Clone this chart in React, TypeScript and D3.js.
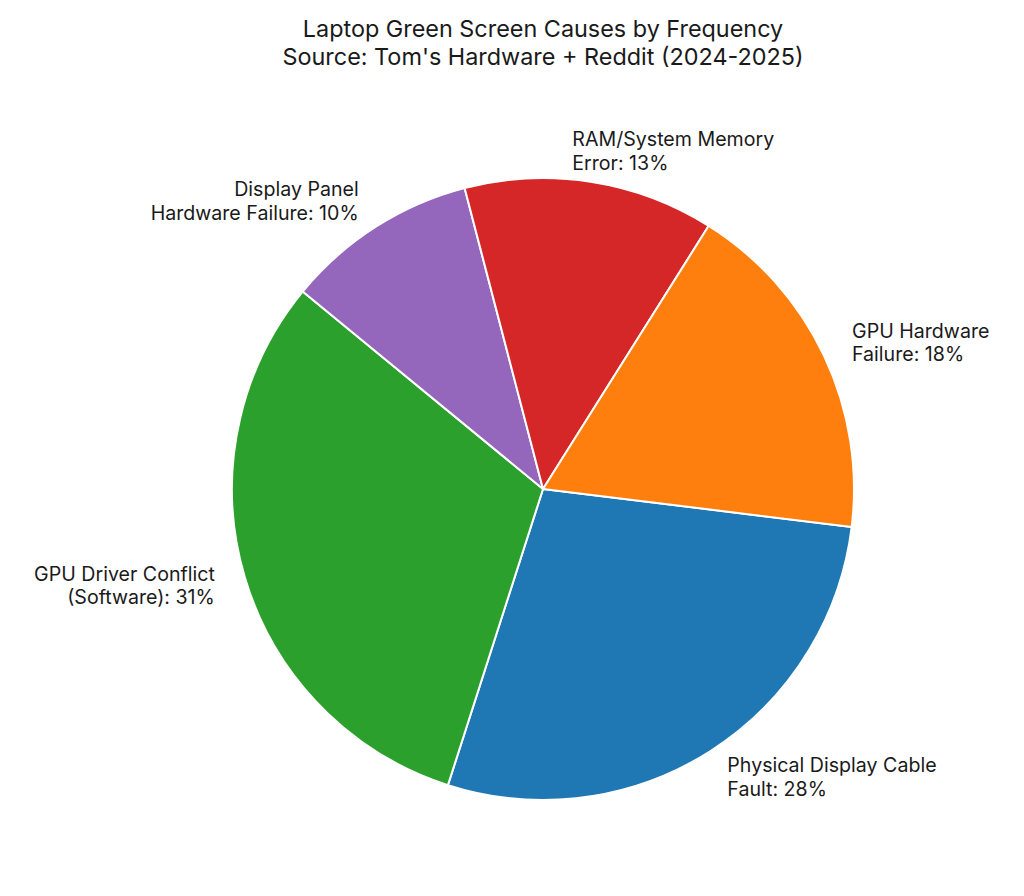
import { useEffect } from 'react';
import * as d3 from 'd3';

const CAUSES = [
  'Physical Display Cable\nFault',
  'GPU Driver Conflict\n(Software)',
  'Display Panel\nHardware Failure',
  'RAM/System Memory\nError',
  'GPU Hardware\nFailure',
];
const SHARES = [28, 31, 10, 13, 18];
const COLORS = ['#1f77b4', '#2ca02c', '#9467bd', '#d62728', '#ff7f0e'];
// small manual nudge for the label that sits near the top
const LABEL_NUDGE = [0, 0, 0, -23, 0];

const WIDTH = 1024;
const HEIGHT = 896;
const CX = 543;
const CY = 489;
const RADIUS = 311;
const START = (97 * Math.PI) / 180;
const FONT = 'Inter, "Open Sans", sans-serif';

type Slice = { label: string; value: number; color: string; nudge: number };

export default function App() {
  useEffect(() => {
    document.body.style.margin = '0';
  }, []);

  const data: Slice[] = CAUSES.map((label, i) => ({
    label,
    value: SHARES[i],
    color: COLORS[i],
    nudge: LABEL_NUDGE[i],
  }));

  const pie = d3.pie<Slice>().sort(null).value((d) => d.value)
    .startAngle(START).endAngle(START + 2 * Math.PI);
  const arcs = pie(data);
  const arc = d3.arc<d3.PieArcDatum<Slice>>().innerRadius(0).outerRadius(RADIUS);
  const total = d3.sum(SHARES);
  const lineGap = 23.5;

  return (
    <svg width={WIDTH} height={HEIGHT} style={{ display: 'block', background: '#fff' }} fontFamily={FONT}>
      <g fill="#1a1a1a" fontSize={23.4} textAnchor="middle">
        <text x={CX} y={28} dominantBaseline="central">Laptop Green Screen Causes by Frequency</text>
        <text x={CX} y={56} dominantBaseline="central">Source: Tom's Hardware + Reddit (2024-2025)</text>
      </g>
      <g transform={`translate(${CX},${CY})`}>
        {arcs.map((a, i) => (
          <path key={i} d={arc(a) ?? ''} fill={a.data.color} stroke="#fff" strokeWidth={2} strokeLinejoin="round" />
        ))}
        {arcs.map((a, i) => {
          const mid = (a.startAngle + a.endAngle) / 2;
          const r = RADIUS * 1.1;
          const x = r * Math.sin(mid) + a.data.nudge;
          const y = -r * Math.cos(mid);
          const anchor = Math.sin(mid) >= 0 ? 'start' : 'end';
          const lines = `${a.data.label}: ${Math.round((a.data.value / total) * 100)}%`.split('\n');
          return (
            <text key={`l${i}`} x={x} y={y} textAnchor={anchor} fontSize={19.6} fill="#1a1a1a">
              {lines.map((ln, j) => (
                <tspan key={j} x={x} y={y + (j - (lines.length - 1) / 2) * lineGap} dominantBaseline="central">{ln}</tspan>
              ))}
            </text>
          );
        })}
      </g>
    </svg>
  );
}
